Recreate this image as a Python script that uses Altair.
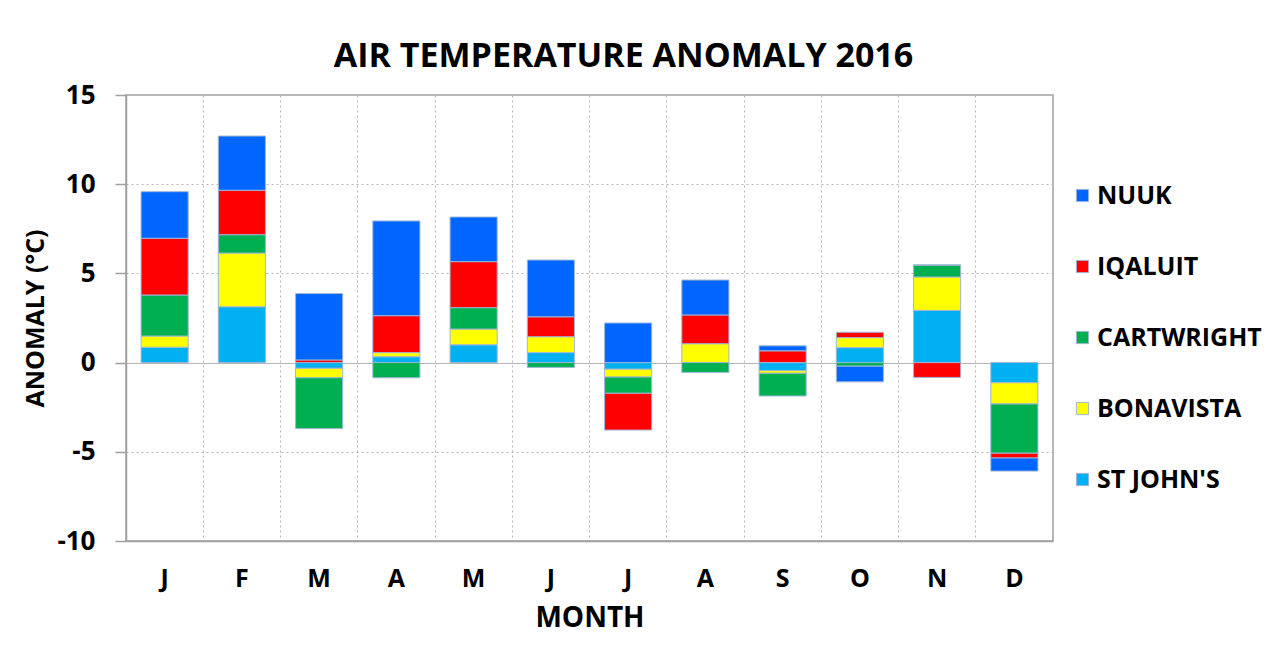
import altair as alt
import pandas as pd

months = ["Jan", "Feb", "Mar", "Apr", "May", "Jun", "Jul", "Aug", "Sep", "Oct", "Nov", "Dec"]
stations = ["NUUK", "IQALUIT", "CARTWRIGHT", "BONAVISTA", "ST JOHN'S"]
colors = ["#0066ff", "#ff0000", "#00b050", "#ffff00", "#00b0f0"]

st_johns = [0.86, 3.13, -0.32, 0.33, 1.00, 0.56, -0.37, 0.00, -0.45, 0.84, 2.93, -1.13]
bonavista = [0.63, 3.01, -0.53, 0.23, 0.88, 0.89, -0.44, 1.06, -0.15, 0.56, 1.87, -1.19]
cartwright = [2.30, 1.03, -2.85, -0.85, 1.20, -0.27, -0.91, -0.55, -1.27, -0.20, 0.67, -2.76]
iqaluit = [3.18, 2.49, 0.15, 2.07, 2.58, 1.12, -2.06, 1.61, 0.66, 0.30, -0.83, -0.27]
nuuk = [2.61, 3.04, 3.72, 5.31, 2.50, 3.18, 2.22, 1.96, 0.28, -0.88, 0.00, -0.73]

series = {"ST JOHN'S": st_johns, "BONAVISTA": bonavista, "CARTWRIGHT": cartwright,
          "IQALUIT": iqaluit, "NUUK": nuuk}
stack_order = {"ST JOHN'S": 0, "BONAVISTA": 1, "CARTWRIGHT": 2, "IQALUIT": 3, "NUUK": 4}

rows = []
for name, vals in series.items():
    for m, v in zip(months, vals):
        rows.append({"month": m, "station": name, "anomaly": v, "order": stack_order[name]})
df = pd.DataFrame(rows)

FONT = "Open Sans"
W, H = 927, 446
GRAY = "#a0a0a0"

chart = alt.Chart(df).mark_bar(
    width={"band": 0.61}, stroke="#9fb6d6", strokeWidth=1
).encode(
    x=alt.X("month:N", sort=months, title="MONTH",
            scale=alt.Scale(paddingInner=0, paddingOuter=0),
            axis=alt.Axis(bandPosition=0, ticks=False,
                          labelExpr="substring(datum.label, 0, 1)",
                          labelAngle=0, labelPadding=25, labelFontSize=25,
                          labelFont=FONT, labelFontWeight="bold", labelColor="black",
                          titleFont=FONT, titleFontSize=28, titleFontWeight="bold",
                          titleColor="black", titlePadding=13,
                          grid=True, gridDash=[2, 3], gridColor="#b5b5b5", gridWidth=1,
                          domainColor=GRAY, domainWidth=1.5)),
    y=alt.Y("anomaly:Q", stack="zero", title="ANOMALY (°C)",
            scale=alt.Scale(domain=[-10, 15], nice=False),
            axis=alt.Axis(values=[-10, -5, 0, 5, 10, 15],
                          labelExpr="datum.value < 0 ? '-' + abs(datum.value) : '' + datum.value",
                          labelFont=FONT, labelFontSize=26, labelFontWeight="bold",
                          labelColor="black", labelPadding=20,
                          tickSize=11, tickColor=GRAY, tickWidth=1.5,
                          grid=True, gridColor="#b5b5b5", gridWidth=1,
                          gridDash={"condition": {"test": "datum.value === 0", "value": []},
                                    "value": [2, 3]},
                          domainColor=GRAY, domainWidth=1.5,
                          titleFont=FONT, titleFontSize=25, titleFontWeight="bold",
                          titleColor="black", titlePadding=8)),
    color=alt.Color("station:N",
                    scale=alt.Scale(domain=stations, range=colors),
                    legend=alt.Legend(title=None, orient="none", legendX=944, legendY=88,
                                      labelFont=FONT, labelFontSize=25, labelFontWeight="bold",
                                      labelColor="black", labelLimit=400,
                                      symbolType="square", symbolSize=150,
                                      symbolStrokeColor="#9fb6d6", symbolStrokeWidth=1,
                                      labelOffset=2, rowPadding=45)),
    order=alt.Order("order:Q", sort="ascending"),
).properties(
    width=W, height=H,
    title=alt.TitleParams("AIR TEMPERATURE ANOMALY 2016", font=FONT, fontSize=34,
                          fontWeight="bold", color="black", anchor="middle",
                          frame="group", dx=34, offset=8),
    autosize=alt.AutoSizeParams(type="none"),
    padding={"left": 118, "top": 87, "right": 215, "bottom": 100},
).configure_view(stroke=GRAY, strokeWidth=1.5)

chart.save("out.html", embed_options={"renderer": "svg", "actions": False})
